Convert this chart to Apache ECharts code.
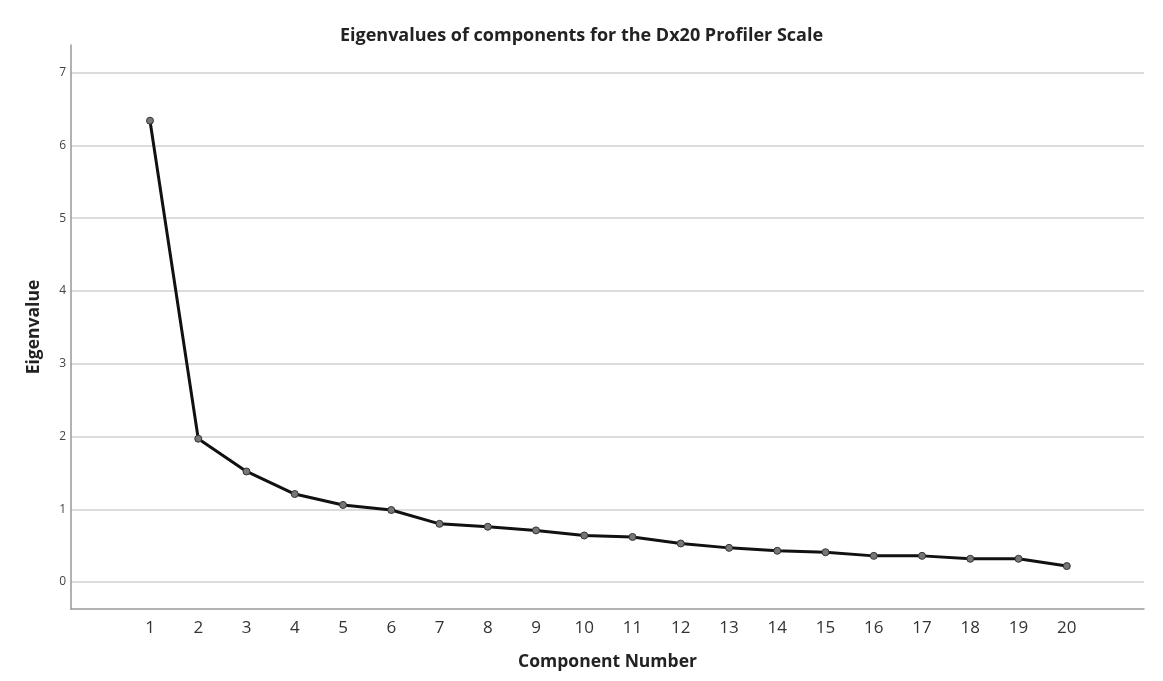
<!DOCTYPE html>
<html>
<head>
<meta charset="utf-8">
<script src="https://cdn.jsdelivr.net/npm/echarts@6/dist/echarts.min.js"></script>
<style>
html,body{margin:0;padding:0;background:#fff;}
#chart{width:1163px;height:681px;}
</style>
</head>
<body>
<div id="chart"></div>
<script>
const components = [1,2,3,4,5,6,7,8,9,10,11,12,13,14,15,16,17,18,19,20];
const eigenvalues = [6.34,1.97,1.52,1.21,1.06,0.99,0.80,0.76,0.71,0.64,0.62,0.53,0.47,0.43,0.41,0.36,0.36,0.32,0.32,0.22];
const titleText = 'Eigenvalues of components for the Dx20 Profiler Scale';
const xName = 'Component Number';
const yName = 'Eigenvalue';

const chart = echarts.init(document.getElementById('chart'));
const font = '"Open Sans", "DejaVu Sans", sans-serif';
chart.setOption({
  animation: false,
  backgroundColor: '#fff',
  title: {
    text: titleText,
    left: 'center',
    top: 22,
    textStyle: {fontFamily: font, fontSize: 18, fontWeight: 'bold', color: '#222'}
  },
  grid: {left: 71, right: 19, top: 45, bottom: 72},
  xAxis: {
    type: 'value',
    min: -0.637,
    max: 21.6,
    minInterval: 1,
    maxInterval: 1,
    name: xName,
    nameLocation: 'middle',
    nameGap: 44,
    nameTextStyle: {fontFamily: font, fontSize: 17.5, fontWeight: 'bold', color: '#222'},
    axisLine: {show: true, onZero: false, lineStyle: {color: '#999', width: 1.5}},
    axisTick: {show: false},
    splitLine: {show: false},
    axisLabel: {
      fontFamily: font, fontSize: 17, color: '#333', margin: 11,
      formatter: v => (Number.isInteger(v) && v >= 1 && v <= 20) ? String(v) : ''
    }
  },
  yAxis: {
    type: 'value',
    min: -0.37,
    max: 7.38,
    minInterval: 1,
    maxInterval: 1,
    name: yName,
    nameLocation: 'middle',
    nameGap: 28,
    nameTextStyle: {fontFamily: font, fontSize: 17.5, fontWeight: 'bold', color: '#222'},
    axisLine: {show: true, onZero: false, lineStyle: {color: '#999', width: 1.5}},
    axisTick: {show: false},
    splitLine: {show: true, showMinLine: false, showMaxLine: false, lineStyle: {color: '#dcdcdc', width: 2}},
    axisLabel: {
      fontFamily: font, fontSize: 12, color: '#444', margin: 5,
      formatter: v => Math.abs(v - Math.round(v)) < 1e-6 ? String(Math.round(v)) : ''
    }
  },
  series: [{
    type: 'line',
    data: components.map((c, i) => [c, eigenvalues[i]]),
    symbol: 'circle',
    symbolSize: 7,
    lineStyle: {color: '#111', width: 3},
    itemStyle: {color: '#777', borderColor: '#333', borderWidth: 1}
  }]
});
</script>
</body>
</html>
